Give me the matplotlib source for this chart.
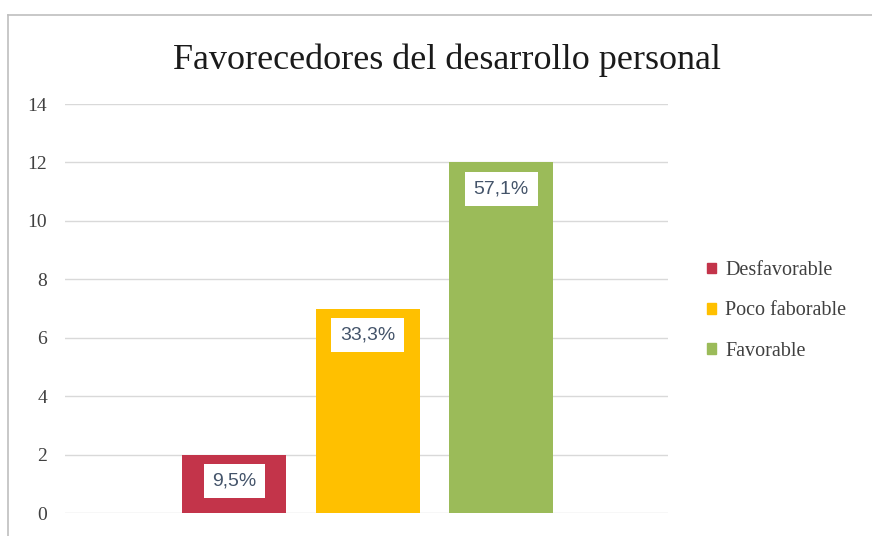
import matplotlib.pyplot as plt
from matplotlib.lines import Line2D
from matplotlib.patches import Patch

# Datos
categorias = ['Desfavorable', 'Poco faborable', 'Favorable']
valores = [2, 7, 12]
etiquetas = ['9,5%', '33,3%', '57,1%']
colores = ['#C3344A', '#FFC000', '#9BBB59']
titulo = 'Favorecedores del desarrollo personal'
yticks = [0, 2, 4, 6, 8, 10, 12, 14]

fig = plt.figure(figsize=(8.72, 5.36), dpi=100)
ax = fig.add_axes([0.0745, 0.0429, 0.6915, 0.763])

posiciones = [-1, 0, 1]
barras = ax.bar(posiciones, valores, width=0.78, color=colores, zorder=2)

# Etiquetas de datos dentro del extremo de la barra
for b, txt in zip(barras, etiquetas):
    x = b.get_x() + b.get_width() / 2
    ax.annotate(txt, (x, b.get_height()), xytext=(0, -19), textcoords='offset points',
                ha='center', va='center', fontsize=14, color='#44546A',
                family='Liberation Sans', zorder=4,
                bbox=dict(boxstyle='square,pad=0.45', fc='white', ec='none'))

ax.set_xlim(-2.27, 2.25)
ax.set_ylim(0, 14)
ax.set_yticks(yticks)
ax.set_xticks([])
ax.grid(axis='y', color='#D9D9D9', linewidth=1, zorder=0)
for s in ax.spines.values():
    s.set_visible(False)
ax.tick_params(axis='y', length=0, pad=13, labelsize=14, labelcolor='#404040')
for lab in ax.get_yticklabels():
    lab.set_family('Liberation Serif')

fig.text(0.513, 0.887, titulo, ha='center', va='center', fontsize=26,
         family='Liberation Serif', color='#1a1a1a')

# Leyenda
handles = [Patch(color=c, label=n) for c, n in zip(colores, categorias)]
fig.legend(handles=handles, loc='center left', bbox_to_anchor=(0.79, 0.42),
           frameon=False, handlelength=0.45, handleheight=0.45, handletextpad=0.45,
           labelspacing=1.05, prop={'family': 'Liberation Serif', 'size': 14.5},
           labelcolor='#404040')

# Marco del gráfico
fig.add_artist(Line2D([0.009, 1.0], [0.972, 0.972], color='#BFBFBF', lw=1.2))
fig.add_artist(Line2D([0.009, 0.009], [0.0, 0.972], color='#BFBFBF', lw=1.2))

fig.savefig('out.png', dpi=100)
